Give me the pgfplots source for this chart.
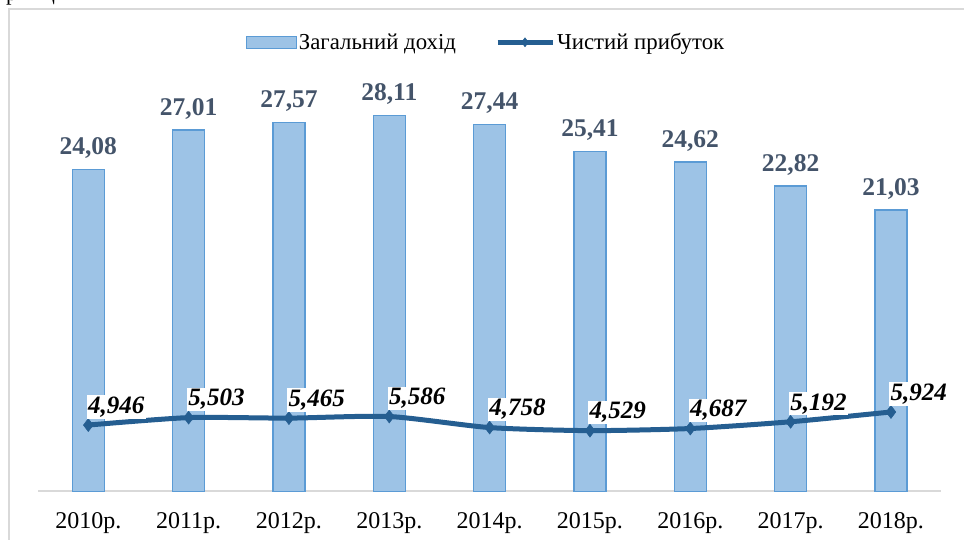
\documentclass[border=0pt]{standalone}
\usepackage{pgfplots}
\pgfplotsset{compat=1.18}
\usepackage{fontspec}
\setmainfont{Liberation Serif}
\definecolor{barfill}{HTML}{9DC3E6}
\definecolor{baredge}{HTML}{5B9BD5}
\definecolor{linec}{HTML}{255E91}
\definecolor{lblc}{HTML}{44546A}
\pgfplotsset{
  barleg/.style={legend image code/.code={\draw[##1] (0pt,-6pt) rectangle (50pt,6pt);}},
  lineleg/.style={legend image code/.code={\draw[mark repeat=2, mark phase=2, ##1, mark size=4.5pt] plot coordinates {(0pt,0pt) (27.5pt,0pt) (55pt,0pt)};}},
}
\begin{document}
\begin{tikzpicture}[x=1pt,y=1pt]
\useasboundingbox (0,0) rectangle (964,540);
\clip (0,0) rectangle (964,540);
\fill[white] (0,0) rectangle (964,540);
\draw[black!15, line width=2pt] (9,-20) -- (9,531) -- (990,531);
\node[anchor=base west, font=\fontsize{22}{24}\selectfont, inner sep=0] at (6,539.5) {р};
\node[anchor=base east, font=\fontsize{22}{24}\selectfont, inner sep=0] at (55,539.5) {ц};
\begin{axis}[
  at={(38,36.5)}, anchor=south west, scale only axis,
  width=903pt, height=414.5pt,
  xmin=-0.5, xmax=8.5, ymin=0, ymax=31,
  axis y line=none, axis x line*=bottom,
  x axis line style={draw=black!15, line width=1.5pt, -},
  xtick={0,...,8},
  xticklabels={2010р.,2011р.,2012р.,2013р.,2014р.,2015р.,2016р.,2017р.,2018р.},
  major tick length=0pt,
  xticklabel style={font=\fontsize{24}{26}\selectfont, yshift=-18pt},
  clip=false,
  legend style={at={(0.496,1.083)}, anchor=center, draw=none, fill=none,
    legend columns=2, font=\fontsize{22.8}{24}\selectfont,
    /tikz/every even column/.append style={column sep=37pt}},
  legend cell align=left,
]
\addplot[ybar, bar width=32pt, fill=barfill, draw=baredge, line width=1.2pt,
  nodes near coords={\pgfmathprintnumber[fixed, fixed zerofill, precision=2, use comma, assume math mode=true]{\pgfplotspointmeta}},
  every node near coord/.append style={font=\fontsize{25.5}{27}\selectfont\bfseries, text=lblc, yshift=7pt},
  barleg]
coordinates {(0,24.08) (1,27.01) (2,27.57) (3,28.11) (4,27.44) (5,25.41) (6,24.62) (7,22.82) (8,21.03)};
\addlegendentry{Загальний дохід}
\addplot[linec, line width=5pt, smooth, tension=0.4, mark=diamond*, mark size=6.5pt,
  mark options={fill=linec, draw=linec, line width=0.5pt},
  nodes near coords={\pgfmathprintnumber[fixed, fixed zerofill, precision=3, use comma, assume math mode=true]{\pgfplotspointmeta}},
  every node near coord/.append style={anchor=west, fill=white, inner sep=1.5pt,
    font=\fontsize{25}{27}\selectfont\bfseries\itshape, text=black, yshift=18pt, xshift=-2pt},
  lineleg]
coordinates {(0,4.946) (1,5.503) (2,5.465) (3,5.586) (4,4.758) (5,4.529) (6,4.687) (7,5.192) (8,5.924)};
\addlegendentry{Чистий прибуток}
\end{axis}
\end{tikzpicture}
\end{document}
